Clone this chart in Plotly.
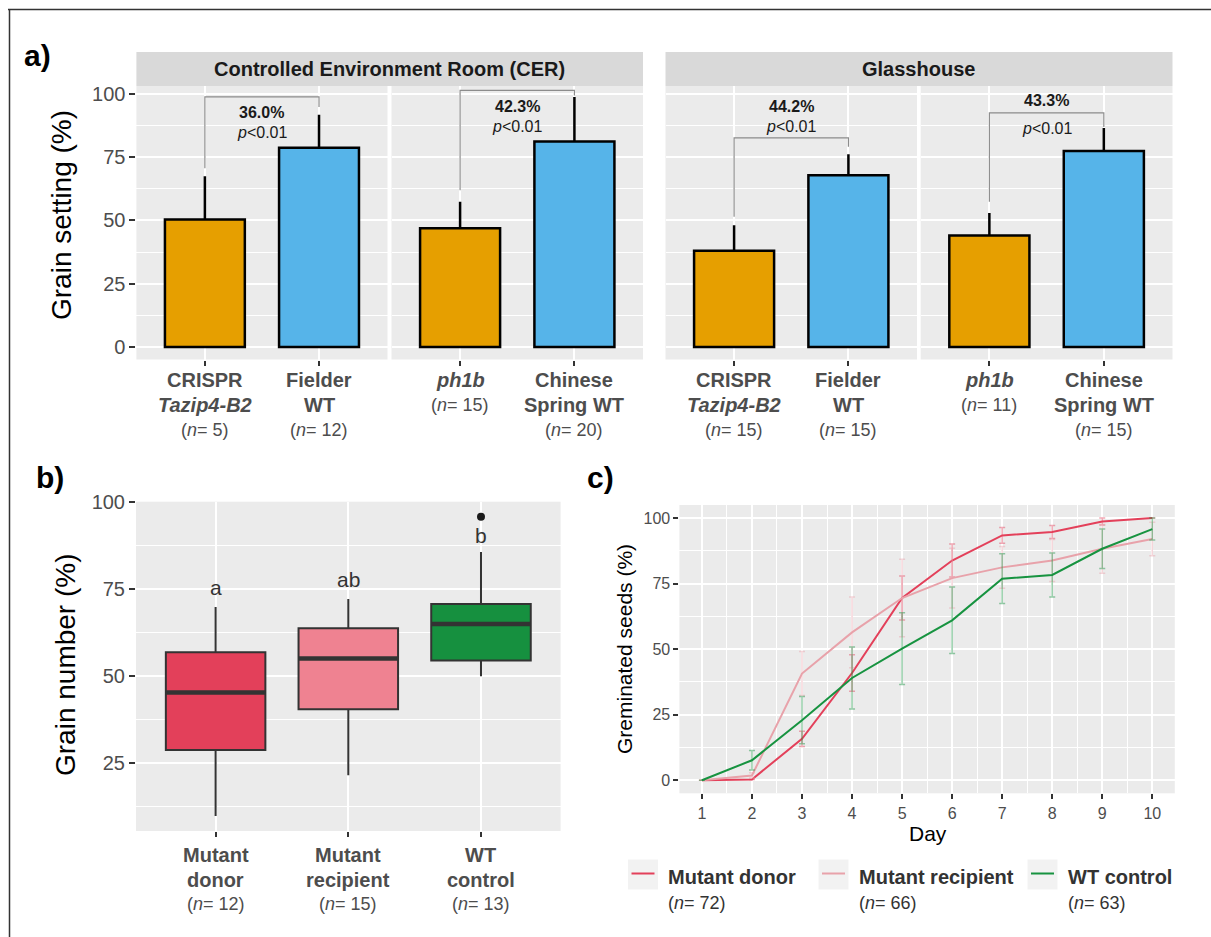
import plotly.graph_objects as go

# ---------------------------------------------------------------- data
# Panel a : grain setting (%), mean and upper error
environments = ["Controlled Environment Room (CER)", "Glasshouse"]
genotype_lines = [
    ["<b>CRISPR</b>", "<b><i>Tazip4-B2</i></b>"],
    ["<b>Fielder</b>", "<b>WT</b>"],
    ["<b><i>ph1b</i></b>"],
    ["<b>Chinese</b>", "<b>Spring WT</b>"],
]
cer_mean = [50.3, 78.6, 46.9, 81.1]
cer_err = [17.1, 13.1, 10.4, 17.6]
cer_n = [5, 12, 15, 20]
gh_mean = [38.0, 67.8, 44.0, 77.4]
gh_err = [10.1, 8.3, 8.9, 9.0]
gh_n = [15, 15, 11, 15]
reductions = ["36.0%", "42.3%", "44.2%", "43.3%"]
p_value_text = "<i>p</i>&lt;0.01"

# Panel b : grain number (%) box statistics
b_groups = [["<b>Mutant</b>", "<b>donor</b>"], ["<b>Mutant</b>", "<b>recipient</b>"], ["<b>WT</b>", "<b>control</b>"]]
b_n = [12, 15, 13]
b_lower = [9.8, 21.5, 50.0]
b_q1 = [28.8, 40.5, 54.5]
b_median = [45.3, 55.1, 65.0]
b_q3 = [56.9, 63.8, 70.8]
b_upper = [69.9, 72.2, 85.7]
b_outlier = [None, None, 95.9]
b_letters = ["a", "ab", "b"]

# Panel c : germinated seeds (%) by day
days = [1, 2, 3, 4, 5, 6, 7, 8, 9, 10]
donor = [0, 0.3, 15.8, 40.9, 69.5, 83.8, 93.4, 94.7, 98.7, 100]
donor_err = [0, 0, 2.9, 7.0, 8.4, 6.3, 3.0, 2.5, 1.3, 0]
recipient = [0, 1.8, 40.7, 56.4, 69.5, 77.1, 81.2, 83.8, 88.3, 92.0]
recipient_err = [0, 1.0, 8.4, 13.5, 14.8, 11.4, 8.0, 8.0, 9.3, 6.4]
wt = [0, 7.6, 22.9, 39.0, 50.2, 61.0, 76.9, 78.3, 88.3, 95.8]
wt_err = [0, 3.7, 9.0, 11.8, 13.7, 12.7, 9.5, 8.4, 7.5, 4.2]
c_series = ["Mutant donor", "Mutant recipient", "WT control"]
c_n = [72, 66, 63]

# ---------------------------------------------------------------- layout helpers
W, H = 1211, 937
def fx(x):
    return x / W
def fy(y):
    return 1 - y / H

FONT = "Liberation Sans, Arial, sans-serif"
GRAY30 = "#4D4D4D"
PANEL_BG = "#EBEBEB"
ORANGE = "#E69F00"
BLUE = "#56B4E9"
C_DONOR = "#E3405A"
C_RECIP = "#EF8291"
C_WT = "#16903F"
LINE_DONOR = "#E3405A"
LINE_RECIP = "#E8A2AA"
LINE_WT = "#179340"

BRACKET_TOP = [98.7, 101.3, 82.5, 92.4]
BRACKET_LEFT_END = [70.6, 61.9, 51.4, 57.3]
BRACKET_RIGHT_END = [94.7, 99.3, 79.0, 86.8]
PCT_Y = [92.4, 95.0, 95.0, 97.4]
PVAL_Y = [84.5, 87.1, 87.1, 86.4]
LETTER_Y = [75.4, 77.9, 90.4]

fig = go.Figure()
annotations = []
shapes = []


def ann(x, y, text, xref="paper", yref="paper", size=16, color="black", xanchor="center",
        yanchor="middle", angle=0):
    annotations.append(dict(x=x, y=y, xref=xref, yref=yref, text=text, showarrow=False,
                            xanchor=xanchor, yanchor=yanchor, textangle=angle,
                            font=dict(family=FONT, size=size, color=color)))


# ---------------------------------------------------------------- panel a
sub_domains = [(136.4, 387.5), (391.5, 643.0), (665.5, 917.0), (920.7, 1172.5)]
a_top, a_bottom = 86, 359.5
for k in range(4):
    xa = "x" if k == 0 else f"x{k+1}"
    ya = "y" if k == 0 else f"y{k+1}"
    if k < 2:
        means, errs, ns = cer_mean, cer_err, cer_n
    else:
        means, errs, ns = gh_mean, gh_err, gh_n
    i0 = (k % 2) * 2
    m = means[i0:i0 + 2]
    e = errs[i0:i0 + 2]
    n = ns[i0:i0 + 2]
    fig.add_trace(go.Bar(
        x=[1, 2], y=m, width=0.7,
        marker=dict(color=[ORANGE, BLUE], line=dict(color="black", width=2.5)),
        error_y=dict(type="data", symmetric=False, array=e, arrayminus=[0, 0],
                     color="black", thickness=2.5, width=0),
        xaxis=xa, yaxis=ya, showlegend=False, hoverinfo="skip"))
    fig.add_trace(go.Scatter(
        x=[1, 1, 2, 2],
        y=[BRACKET_LEFT_END[k], BRACKET_TOP[k], BRACKET_TOP[k], BRACKET_RIGHT_END[k]],
        mode="lines", line=dict(color="#8C8C8C", width=1.2),
        xaxis=xa, yaxis=ya, showlegend=False, hoverinfo="skip"))
    ann(1.5, PCT_Y[k], f"<b>{reductions[k]}</b>", xref=xa, yref=ya, size=16, color="#1A1A1A")
    ann(1.5, PVAL_Y[k], p_value_text, xref=xa, yref=ya, size=16, color="#1A1A1A")
    # category labels
    for j in range(2):
        lines = genotype_lines[i0 + j]
        yy = 380
        for ln in lines:
            ann(j + 1, fy(yy), ln, xref=xa, size=20, color=GRAY30)
            yy += 25
        ann(j + 1, fy(yy - 0.5), f"(<i>n</i>= {n[j]})", xref=xa, size=18, color=GRAY30)
    d0, d1 = sub_domains[k]
    fig.layout[("xaxis" if k == 0 else f"xaxis{k+1}")] = dict(
        domain=[fx(d0), fx(d1)], anchor=ya, range=[0.4, 2.6],
        tickvals=[1, 2], ticktext=["", ""], ticks="outside", ticklen=5, tickwidth=2,
        tickcolor="#333333", showgrid=True, gridcolor="white", gridwidth=2,
        zeroline=False, showline=False, fixedrange=True, automargin=False)
    fig.layout[("yaxis" if k == 0 else f"yaxis{k+1}")] = dict(
        domain=[fy(a_bottom), fy(a_top)], anchor=xa, range=[-4.9, 103],
        tickvals=[0, 25, 50, 75, 100], showticklabels=(k == 0),
        ticks="outside" if k == 0 else "", ticklen=6, tickwidth=2, tickcolor="#333333",
        tickfont=dict(family=FONT, size=20, color=GRAY30),
        showgrid=True, gridcolor="white", gridwidth=2,
        minor=dict(tickvals=[12.5, 37.5, 62.5, 87.5], showgrid=True, gridcolor="white", gridwidth=1),
        zeroline=False, showline=False, fixedrange=True, automargin=False)

# strips
for (x0, x1), label in zip([(136.4, 643.0), (665.5, 1172.5)], environments):
    shapes.append(dict(type="rect", xref="paper", yref="paper", x0=fx(x0), x1=fx(x1),
                       y0=fy(86), y1=fy(52), fillcolor="#D9D9D9", line=dict(width=0), layer="below"))
    ann(fx((x0 + x1) / 2), fy(69), f"<b>{label}</b>", size=20, color="#1A1A1A")

ann(fx(61), fy(215), "Grain setting (%)", size=28, color="black", angle=-90)

# ---------------------------------------------------------------- panel b
box_colors = [C_DONOR, C_RECIP, C_WT]
for i in range(3):
    fig.add_trace(go.Box(
        x=[i + 1], q1=[b_q1[i]], median=[b_median[i]], q3=[b_q3[i]],
        lowerfence=[b_lower[i]], upperfence=[b_upper[i]],
        width=0.75, whiskerwidth=0, fillcolor=box_colors[i],
        line=dict(color="#333333", width=2), boxpoints=False,
        xaxis="x5", yaxis="y5", showlegend=False, hoverinfo="skip"))
    fig.add_trace(go.Scatter(
        x=[i + 1 - 0.375, i + 1 + 0.375], y=[b_median[i], b_median[i]], mode="lines",
        line=dict(color="#333333", width=4.5), xaxis="x5", yaxis="y5",
        showlegend=False, hoverinfo="skip"))
    if b_outlier[i] is not None:
        fig.add_trace(go.Scatter(x=[i + 1], y=[b_outlier[i]], mode="markers",
                                 marker=dict(color="#1A1A1A", size=8), xaxis="x5", yaxis="y5",
                                 showlegend=False, hoverinfo="skip"))
    ann(i + 1, LETTER_Y[i], b_letters[i], xref="x5", yref="y5", size=21, color="#333333")
    yy = 855
    for ln in b_groups[i]:
        ann(i + 1, fy(yy), ln, xref="x5", size=20, color=GRAY30)
        yy += 25
    ann(i + 1, fy(yy - 1), f"(<i>n</i>= {b_n[i]})", xref="x5", size=18, color=GRAY30)

fig.layout["xaxis5"] = dict(domain=[fx(136), fx(560.6)], anchor="y5", range=[0.4, 3.6],
                            tickvals=[1, 2, 3], ticktext=["", "", ""], ticks="outside", ticklen=5,
                            tickwidth=2, tickcolor="#333333", showgrid=True, gridcolor="white",
                            gridwidth=2, zeroline=False, fixedrange=True, automargin=False)
fig.layout["yaxis5"] = dict(domain=[fy(831), fy(501.7)], anchor="x5", range=[5.5, 100.2],
                            tickvals=[25, 50, 75, 100], ticks="outside", ticklen=6, tickwidth=2,
                            tickcolor="#333333", tickfont=dict(family=FONT, size=20, color=GRAY30),
                            showgrid=True, gridcolor="white", gridwidth=2,
                            minor=dict(tickvals=[12.5, 37.5, 62.5, 87.5], showgrid=True,
                                       gridcolor="white", gridwidth=1),
                            zeroline=False, fixedrange=True, automargin=False)
ann(fx(65), fy(665), "Grain number (%)", size=28, color="black", angle=-90)

# ---------------------------------------------------------------- panel c
def rgba(hexc, a):
    h = hexc.lstrip("#")
    return f"rgba({int(h[0:2],16)},{int(h[2:4],16)},{int(h[4:6],16)},{a})"

for vals, errs, col in [(donor, donor_err, LINE_DONOR), (recipient, recipient_err, LINE_RECIP),
                        (wt, wt_err, LINE_WT)]:
    fig.add_trace(go.Scatter(
        x=days, y=vals, mode="lines", line=dict(color=col, width=2),
        error_y=dict(type="data", array=errs, color=rgba(col, 0.45), thickness=1.5, width=3),
        xaxis="x6", yaxis="y6", showlegend=False, hoverinfo="skip"))

fig.layout["xaxis6"] = dict(domain=[fx(679.4), fx(1174.8)], anchor="y6", range=[0.55, 10.45],
                            tickvals=days, ticks="outside", ticklen=5, tickwidth=2,
                            tickcolor="#333333", tickfont=dict(family=FONT, size=16, color=GRAY30),
                            showgrid=True, gridcolor="white", gridwidth=2,
                            minor=dict(tickvals=[d + 0.5 for d in days[:-1]], showgrid=True,
                                       gridcolor="white", gridwidth=1),
                            zeroline=False, fixedrange=True, automargin=False)
fig.layout["yaxis6"] = dict(domain=[fy(793.3), fy(505)], anchor="x6", range=[-5, 105],
                            tickvals=[0, 25, 50, 75, 100], ticks="outside", ticklen=5, tickwidth=2,
                            tickcolor="#333333", tickfont=dict(family=FONT, size=16, color=GRAY30),
                            showgrid=True, gridcolor="white", gridwidth=2,
                            minor=dict(tickvals=[12.5, 37.5, 62.5, 87.5], showgrid=True,
                                       gridcolor="white", gridwidth=1),
                            zeroline=False, fixedrange=True, automargin=False)
ann(fx(624), fy(649), "Greminated seeds (%)", size=21, color="black", angle=-90)
ann(fx(928), fy(833), "Day", size=21, color="black")

# manual legend
legend_key_x = [628, 818.5, 1027.5]
for i, (name, col) in enumerate(zip(c_series, [LINE_DONOR, LINE_RECIP, LINE_WT])):
    kx = legend_key_x[i]
    shapes.append(dict(type="rect", xref="paper", yref="paper", x0=fx(kx), x1=fx(kx + 30),
                       y0=fy(889.5), y1=fy(859.5), fillcolor="#F2F2F2", line=dict(width=0)))
    shapes.append(dict(type="line", xref="paper", yref="paper", x0=fx(kx + 3.5), x1=fx(kx + 26.5),
                       y0=fy(873.5), y1=fy(873.5), line=dict(color=col, width=2)))
    ann(fx(kx + 38), fy(877), f"<b>{name}</b>", size=20, color="#333333", xanchor="left")
    ann(fx(kx + 38), fy(903), f"(<i>n</i>= {c_n[i]})", size=18, color="#333333", xanchor="left")

# ---------------------------------------------------------------- panel labels and frame
for lab, (x, y) in zip(["a)", "b)", "c)"], [(37, 55), (50, 478), (600, 478)]):
    ann(fx(x), fy(y), f"<b>{lab}</b>", size=30, color="black")
shapes.append(dict(type="line", xref="paper", yref="paper", x0=fx(8), x1=1, y0=fy(9.5), y1=fy(9.5),
                   line=dict(color="#333333", width=1.5)))
shapes.append(dict(type="line", xref="paper", yref="paper", x0=fx(9.5), x1=fx(9.5), y0=0, y1=fy(9),
                   line=dict(color="#333333", width=1.5)))

fig.update_layout(
    width=W, height=H, autosize=False,
    margin=dict(l=0, r=0, t=0, b=0, pad=0, autoexpand=False),
    paper_bgcolor="white", plot_bgcolor=PANEL_BG,
    showlegend=False, annotations=annotations, shapes=shapes,
    font=dict(family=FONT),
)

post = (
    "document.documentElement.style.margin='0px';"
    "document.body.style.margin='0px';"
    "document.body.style.padding='0px';"
    "var gd=document.getElementById('{plot_id}');"
    "if(gd){gd.style.position='absolute';gd.style.left='0px';gd.style.top='0px';}"
)
fig.write_html("out.html", config={"displayModeBar": False}, post_script=post)
